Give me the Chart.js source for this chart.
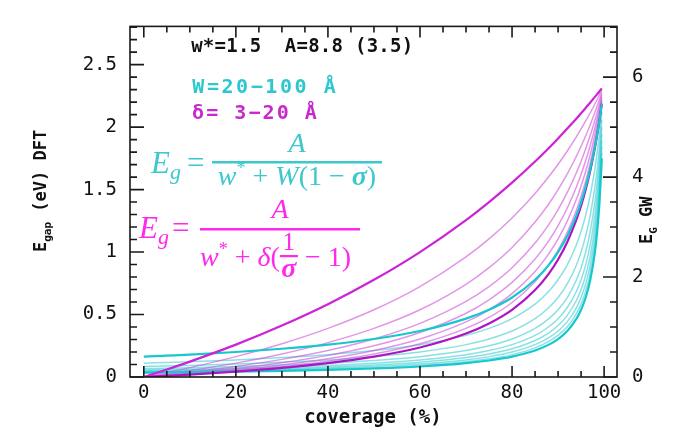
<!DOCTYPE html>
<html>
<head>
<meta charset="utf-8">
<script src="https://cdn.jsdelivr.net/npm/chart.js@4.4.0/dist/chart.umd.min.js"></script>
<style>
  html, body { margin: 0; padding: 0; background: #fff; }
</style>
</head>
<body>
<canvas id="chart" width="675" height="427"></canvas>
<script>
// coverage (%) sample points shared by every curve
const coverage = [0, 5, 10, 20, 30, 40, 50, 60, 70, 75, 80, 85, 88, 90, 92, 94, 95, 96, 97, 98, 98.5, 99, 99.5];

// cyan family, W = 20 ... 100 A (E_gap DFT, eV)
const cyanW20  = [0.163, 0.171, 0.179, 0.200, 0.226, 0.259, 0.304, 0.368, 0.467, 0.538, 0.636, 0.778, 0.897, 1.000, 1.129, 1.296, 1.400, 1.522, 1.667, 1.842, 1.944, 2.059, 2.188];
const cyanW30  = [0.111, 0.117, 0.123, 0.137, 0.156, 0.179, 0.212, 0.259, 0.333, 0.389, 0.467, 0.583, 0.686, 0.778, 0.897, 1.061, 1.167, 1.296, 1.458, 1.667, 1.795, 1.944, 2.121];
const cyanW40  = [0.084, 0.089, 0.093, 0.104, 0.119, 0.137, 0.163, 0.200, 0.259, 0.304, 0.368, 0.467, 0.556, 0.636, 0.745, 0.897, 1.000, 1.129, 1.296, 1.522, 1.667, 1.842, 2.059];
const cyanW50  = [0.068, 0.071, 0.075, 0.084, 0.096, 0.111, 0.132, 0.163, 0.212, 0.250, 0.304, 0.389, 0.467, 0.538, 0.636, 0.778, 0.875, 1.000, 1.167, 1.400, 1.556, 1.750, 2.000];
const cyanW60  = [0.057, 0.060, 0.063, 0.071, 0.080, 0.093, 0.111, 0.137, 0.179, 0.212, 0.259, 0.333, 0.402, 0.467, 0.556, 0.686, 0.778, 0.897, 1.061, 1.296, 1.458, 1.667, 1.944];
const cyanW70  = [0.049, 0.051, 0.054, 0.061, 0.069, 0.080, 0.096, 0.119, 0.156, 0.184, 0.226, 0.292, 0.354, 0.412, 0.493, 0.614, 0.700, 0.814, 0.972, 1.207, 1.373, 1.591, 1.892];
const cyanW80  = [0.043, 0.045, 0.048, 0.053, 0.061, 0.071, 0.084, 0.104, 0.137, 0.163, 0.200, 0.259, 0.315, 0.368, 0.443, 0.556, 0.636, 0.745, 0.897, 1.129, 1.296, 1.522, 1.842];
const cyanW90  = [0.038, 0.040, 0.042, 0.048, 0.054, 0.063, 0.075, 0.093, 0.123, 0.146, 0.179, 0.233, 0.285, 0.333, 0.402, 0.507, 0.583, 0.686, 0.833, 1.061, 1.228, 1.458, 1.795];
const cyanW100 = [0.035, 0.036, 0.038, 0.043, 0.049, 0.057, 0.068, 0.084, 0.111, 0.132, 0.163, 0.212, 0.259, 0.304, 0.368, 0.467, 0.538, 0.636, 0.778, 1.000, 1.167, 1.400, 1.750];

// magenta family, delta = 3 ... 20 A
const magD3    = [0, 0.060, 0.123, 0.259, 0.412, 0.583, 0.778, 1.000, 1.256, 1.400, 1.556, 1.725, 1.833, 1.909, 1.988, 2.069, 2.111, 2.154, 2.197, 2.242, 2.264, 2.287, 2.310];
const magD5    = [0, 0.036, 0.075, 0.163, 0.266, 0.389, 0.538, 0.724, 0.961, 1.105, 1.273, 1.469, 1.604, 1.703, 1.809, 1.924, 1.985, 2.049, 2.115, 2.185, 2.221, 2.257, 2.295];
const magD7    = [0, 0.024, 0.051, 0.111, 0.184, 0.275, 0.389, 0.538, 0.742, 0.875, 1.037, 1.240, 1.387, 1.500, 1.626, 1.769, 1.847, 1.931, 2.021, 2.117, 2.168, 2.221, 2.276];
const magD10   = [0, 0.018, 0.038, 0.084, 0.141, 0.212, 0.304, 0.429, 0.605, 0.724, 0.875, 1.072, 1.222, 1.340, 1.477, 1.637, 1.727, 1.826, 1.934, 2.054, 2.118, 2.186, 2.258];
const magD12   = [0, 0.015, 0.031, 0.068, 0.114, 0.173, 0.250, 0.356, 0.510, 0.618, 0.757, 0.944, 1.092, 1.212, 1.353, 1.523, 1.622, 1.732, 1.855, 1.994, 2.071, 2.152, 2.240];
const magD15   = [0, 0.012, 0.026, 0.057, 0.096, 0.146, 0.212, 0.304, 0.441, 0.538, 0.667, 0.844, 0.987, 1.105, 1.248, 1.424, 1.529, 1.647, 1.782, 1.938, 2.025, 2.119, 2.222];
const magD17   = [0, 0.011, 0.022, 0.049, 0.083, 0.126, 0.184, 0.266, 0.389, 0.477, 0.596, 0.763, 0.901, 1.016, 1.158, 1.337, 1.446, 1.570, 1.715, 1.885, 1.981, 2.087, 2.204];
const magD20   = [0, 0.009, 0.019, 0.043, 0.073, 0.111, 0.163, 0.236, 0.348, 0.429, 0.538, 0.696, 0.828, 0.940, 1.081, 1.261, 1.371, 1.500, 1.652, 1.834, 1.940, 2.056, 2.187];

// tick labels
const xTickLabels = [0, 20, 40, 60, 80, 100];
const dftTickLabels = [0, 0.5, 1, 1.5, 2, 2.5];
const gwTickLabels = [0, 2, 4, 6];

const CYAN = 'rgb(20,200,205)';
const CYAN_THIN = 'rgba(40,200,205,0.55)';
const MAG = 'rgb(205,35,215)';
const MAG_THIN = 'rgba(205,80,215,0.6)';
const MAG_DARK = 'rgb(175,20,195)';

function series(values, color, width) {
    return {
        data: values.map((v, i) => ({ x: coverage[i], y: v })),
        borderColor: color,
        borderWidth: width,
        pointRadius: 0,
        fill: false,
        cubicInterpolationMode: 'monotone',
        xAxisID: 'x',
        yAxisID: 'y'
    };
}

// first datasets are drawn on top
const datasets = [
    series(magD3, MAG, 2.2),
    series(cyanW20, CYAN, 2.2),
    series(magD20, MAG_DARK, 2.2),
    series(cyanW100, CYAN, 2.2),
    series(magD5, MAG_THIN, 1.5),
    series(magD7, MAG_THIN, 1.5),
    series(magD10, MAG_THIN, 1.5),
    series(magD12, MAG_THIN, 1.5),
    series(magD15, MAG_THIN, 1.5),
    series(magD17, MAG_THIN, 1.5),
    series(cyanW30, CYAN_THIN, 1.5),
    series(cyanW40, CYAN_THIN, 1.5),
    series(cyanW50, CYAN_THIN, 1.5),
    series(cyanW60, CYAN_THIN, 1.5),
    series(cyanW70, CYAN_THIN, 1.5),
    series(cyanW80, CYAN_THIN, 1.5),
    series(cyanW90, CYAN_THIN, 1.5)
];

const tickFont = { family: 'DejaVu Sans Mono', size: 19 };

function drawRuns(ctx, runs, x, y) {
    for (const r of runs) {
        ctx.font = r.f;
        ctx.fillText(r.t, x, y + (r.dy || 0));
        x += ctx.measureText(r.t).width;
    }
    return x;
}

function runsWidth(ctx, runs) {
    let w = 0;
    for (const r of runs) {
        ctx.font = r.f;
        w += ctx.measureText(r.t).width;
    }
    return w;
}

function drawSpaced(ctx, text, x, y, adv) {
    ctx.textAlign = 'center';
    [...text].forEach((ch, i) => ctx.fillText(ch, x + i * adv + adv / 2, y));
    ctx.textAlign = 'left';
}

const IT = s => `italic ${s}px "Liberation Serif"`;
const RM = s => `${s}px "Liberation Serif"`;
const BI = s => `bold italic ${s}px "Liberation Serif"`;

const framePlugin = {
    id: 'frame',
    afterDraw(chart) {
        const ctx = chart.ctx;
        const a = chart.chartArea;
        const xs = chart.scales.x, ys = chart.scales.y, gs = chart.scales.y2;
        ctx.save();
        ctx.strokeStyle = '#1a1a1a';
        ctx.lineWidth = 1.6;
        ctx.strokeRect(a.left, a.top, a.right - a.left, a.bottom - a.top);

        // inward ticks
        ctx.beginPath();
        for (let i = 0; i <= 20; i++) {
            const px = xs.getPixelForValue(i * 5);
            const len = i % 4 === 0 ? 11 : 6;
            ctx.moveTo(px, a.bottom); ctx.lineTo(px, a.bottom - len);
            ctx.moveTo(px, a.top); ctx.lineTo(px, a.top + len);
        }
        for (let i = 0; i <= 28; i++) {
            const py = ys.getPixelForValue(i / 10);
            const len = i % 5 === 0 ? 14 : 7;
            ctx.moveTo(a.left, py); ctx.lineTo(a.left + len, py);
        }
        for (let i = 0; i <= 14; i++) {
            const py = gs.getPixelForValue(i / 2);
            const len = i % 4 === 0 ? 14 : 7;
            ctx.moveTo(a.right, py); ctx.lineTo(a.right - len, py);
        }
        ctx.stroke();

        // axis titles
        ctx.fillStyle = '#111';
        ctx.textBaseline = 'alphabetic';
        ctx.textAlign = 'center';
        ctx.font = 'bold 19px "DejaVu Sans Mono"';
        ctx.fillText('coverage (%)', 373, 423);
        ctx.textAlign = 'left';

        ctx.save();
        ctx.translate(46, 252);
        ctx.rotate(-Math.PI / 2);
        drawRuns(ctx, [
            { t: 'E', f: 'bold 17px "DejaVu Sans Mono"' },
            { t: 'gap', f: 'bold 11px "DejaVu Sans Mono"', dy: 5 },
            { t: ' (eV) DFT', f: 'bold 17px "DejaVu Sans Mono"' }
        ], 0, 0);
        ctx.restore();

        ctx.save();
        ctx.translate(652, 244);
        ctx.rotate(-Math.PI / 2);
        drawRuns(ctx, [
            { t: 'E', f: 'bold 17px "DejaVu Sans Mono"' },
            { t: 'G', f: 'bold 11px "DejaVu Sans Mono"', dy: 5 },
            { t: ' GW', f: 'bold 17px "DejaVu Sans Mono"' }
        ], 0, 0);
        ctx.restore();

        // parameter notes
        ctx.textBaseline = 'middle';
        ctx.font = 'bold 19px "DejaVu Sans Mono"';
        ctx.fillStyle = '#111';
        drawSpaced(ctx, 'w*=1.5  A=8.8 (3.5)', 191, 47, 11.7);
        ctx.font = 'bold 20px "DejaVu Sans Mono"';
        ctx.fillStyle = 'rgb(45,200,205)';
        drawSpaced(ctx, 'W=20\u2212100 \u00c5', 191, 88, 14.6);
        ctx.fillStyle = 'rgb(200,40,205)';
        drawSpaced(ctx, '\u03b4= 3\u221220 \u00c5', 191, 114, 14.1);

        // cyan formula
        ctx.textBaseline = 'alphabetic';
        ctx.fillStyle = 'rgb(60,200,205)';
        drawRuns(ctx, [{ t: 'E', f: IT(31) }, { t: 'g', f: IT(22), dy: 6 }], 151, 173);
        ctx.font = RM(31);
        ctx.fillText('=', 187, 173);
        ctx.fillRect(212, 161, 170, 2.5);
        ctx.font = IT(28);
        ctx.textAlign = 'center';
        ctx.fillText('A', 297, 152);
        ctx.textAlign = 'left';
        let den = [
            { t: 'w', f: IT(28) }, { t: '*', f: RM(18), dy: -11 }, { t: ' + ', f: RM(28) },
            { t: 'W', f: IT(28) }, { t: '(1 \u2212 ', f: RM(28) }, { t: '\u03c3', f: BI(28) }, { t: ')', f: RM(28) }
        ];
        drawRuns(ctx, den, 297 - runsWidth(ctx, den) / 2, 185);

        // magenta formula
        ctx.fillStyle = 'rgb(255,40,235)';
        drawRuns(ctx, [{ t: 'E', f: IT(31) }, { t: 'g', f: IT(22), dy: 6 }], 139, 238);
        ctx.font = RM(31);
        ctx.fillText('=', 172, 238);
        ctx.fillRect(200, 228, 160, 2.5);
        ctx.font = IT(28);
        ctx.textAlign = 'center';
        ctx.fillText('A', 280, 218);
        ctx.textAlign = 'left';
        let xm = drawRuns(ctx, [
            { t: 'w', f: IT(28) }, { t: '*', f: RM(18), dy: -11 }, { t: ' + ', f: RM(28) },
            { t: '\u03b4', f: IT(28) }, { t: '(', f: RM(28) }
        ], 200, 266);
        ctx.font = BI(28);
        const fw = ctx.measureText('\u03c3').width + 3;
        ctx.textAlign = 'center';
        ctx.font = RM(25);
        ctx.fillText('1', xm + fw / 2, 250);
        ctx.fillRect(xm, 255, fw, 2.2);
        ctx.font = BI(28);
        ctx.fillText('\u03c3', xm + fw / 2, 277);
        ctx.textAlign = 'left';
        drawRuns(ctx, [{ t: ' \u2212 1)', f: RM(28) }], xm + fw, 266);

        ctx.restore();
    }
};

new Chart(document.getElementById('chart'), {
    type: 'line',
    data: { datasets: datasets },
    options: {
        responsive: false,
        animation: false,
        layout: { padding: { top: 6, left: 0, right: 0, bottom: 0 } },
        plugins: { legend: { display: false }, tooltip: { enabled: false } },
        scales: {
            x: {
                type: 'linear',
                position: 'bottom',
                min: -3,
                max: 102.8,
                grid: { display: false, drawTicks: false },
                border: { display: false },
                ticks: { padding: 5, font: tickFont, color: '#111', callback: v => String(v) },
                afterBuildTicks: s => { s.ticks = xTickLabels.map(v => ({ value: v })); },
                afterFit: s => { s.height = 50; }
            },
            y: {
                type: 'linear',
                position: 'left',
                min: 0,
                max: 2.806,
                grid: { display: false, drawTicks: false },
                border: { display: false },
                ticks: { padding: 13, font: tickFont, color: '#111', callback: v => String(v) },
                afterBuildTicks: s => { s.ticks = dftTickLabels.map(v => ({ value: v })); },
                afterFit: s => { s.width = 130; }
            },
            y2: {
                type: 'linear',
                position: 'right',
                min: 0,
                max: 7.015,
                grid: { display: false, drawTicks: false },
                border: { display: false },
                ticks: { padding: 15, font: tickFont, color: '#111', callback: v => String(v) },
                afterBuildTicks: s => { s.ticks = gwTickLabels.map(v => ({ value: v })); },
                afterFit: s => { s.width = 58; }
            }
        }
    },
    plugins: [framePlugin]
});
</script>
</body>
</html>
